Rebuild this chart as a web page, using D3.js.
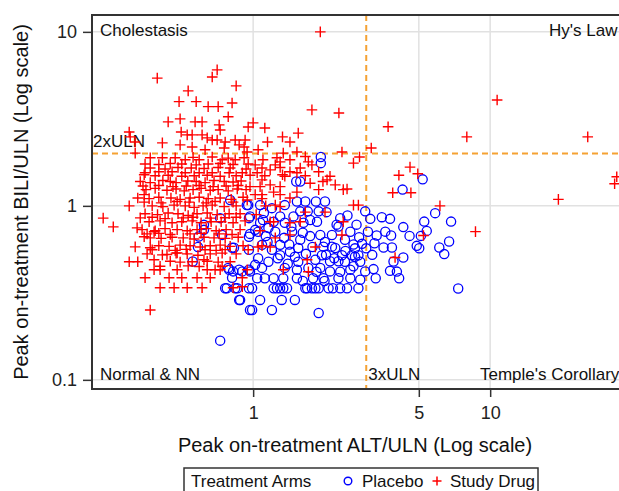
<!DOCTYPE html>
<html>
<head>
<meta charset="utf-8">
<script src="https://cdn.jsdelivr.net/npm/d3@7"></script>
<style>
  html, body { margin: 0; padding: 0; background: #fff; overflow: hidden; }
  svg { display: block; font-family: Arial, 'Liberation Sans', sans-serif; }
</style>
</head>
<body>
<svg id="chart" width="619" height="491"></svg>
<script>
// Peak ALT/ULN vs peak BILI/ULN per subject
const placebo = [
  [1.93, 1.91], [1.93, 1.76], [5.19, 1.42], [4.27, 1.24], [5.86, 0.908], [5.27, 0.812], [6.84, 0.812],
  [5.40, 0.718], [5.10, 0.672], [4.57, 0.672], [4.30, 0.755], [3.49, 0.861], [3.78, 0.842], [3.12, 0.842],
  [3.32, 0.675], [3.61, 0.711], [3.82, 0.675], [3.25, 0.61], [3.55, 0.576], [3.85, 0.576], [3.18, 0.523],
  [4.30, 0.505], [3.91, 0.479], [3.22, 0.433], [3.78, 0.423], [4.04, 0.419], [3.29, 0.384], [4.13, 0.384],
  [4.90, 0.589], [5.02, 0.571], [6.10, 0.576], [6.40, 0.528], [6.71, 0.624], [7.33, 0.335], [1.58, 1.38],
  [1.52, 1.38], [1.53, 1.06], [1.66, 1.06], [1.84, 1.06], [2.01, 1.06], [1.36, 1.01], [1.07, 1.01],
  [0.94, 1.01], [1.20, 0.97], [2.97, 0.93], [2.33, 0.85], [2.73, 0.78], [2.25, 0.78], [2.04, 0.92],
  [1.89, 0.93], [1.58, 0.93], [1.48, 0.87], [1.74, 0.83], [1.30, 0.87], [1.11, 0.91], [0.97, 0.87],
  [1.07, 0.80], [1.22, 0.81], [1.36, 0.80], [1.63, 0.80], [1.86, 0.81], [2.29, 0.76], [1.92, 0.68],
  [2.15, 0.68], [1.98, 0.583], [2.15, 0.583], [2.69, 0.57], [2.61, 0.52], [2.69, 0.51], [2.78, 0.52],
  [2.97, 0.42], [2.83, 0.376], [2.57, 0.43], [2.29, 0.48], [2.11, 0.48], [2.11, 0.42], [2.29, 0.384],
  [2.49, 0.336], [2.33, 0.336], [2.17, 0.336], [2.08, 0.336], [2.78, 0.336], [1.89, 0.336], [1.83, 0.336],
  [1.66, 0.336], [1.98, 0.384], [1.79, 0.384], [1.53, 0.384], [1.34, 0.336], [1.30, 0.336], [1.26, 0.336],
  [1.22, 0.336], [1.32, 0.288], [1.50, 0.288], [1.07, 0.288], [0.881, 0.288], [1.20, 0.252], [0.99, 0.252],
  [1.89, 0.242], [0.99, 0.336], [1.04, 0.384], [1.12, 0.384], [1.22, 0.384], [1.34, 0.384], [0.726, 0.168],
  [0.556, 0.479], [0.585, 0.58], [0.785, 0.44], [0.823, 0.42], [0.90, 0.42], [0.97, 0.42], [0.774, 0.336],
  [0.857, 0.336], [1.39, 0.336], [1.69, 0.336], [1.77, 0.336], [0.62, 0.728], [0.62, 0.778], [0.59, 0.666],
  [0.74, 0.681], [0.815, 0.574], [0.83, 0.574], [0.726, 0.85], [0.80, 1.08], [0.953, 1.01], [0.96, 0.85],
  [0.96, 0.664], [0.96, 0.559], [0.792, 0.429], [0.873, 0.429], [0.96, 0.429], [0.815, 0.386], [0.762, 0.336],
  [0.84, 0.336], [0.96, 0.336], [0.873, 0.288], [0.97, 0.252], [1.05, 0.71], [1.13, 0.67], [1.24, 0.71],
  [1.35, 0.655], [1.46, 0.71], [1.58, 0.638], [1.74, 0.67], [1.09, 0.597], [1.20, 0.559], [1.30, 0.597],
  [1.43, 0.545], [1.55, 0.573], [1.67, 0.53], [1.83, 0.49], [1.05, 0.50], [1.16, 0.477], [1.27, 0.50],
  [1.40, 0.465], [1.55, 0.477], [1.71, 0.44], [1.92, 0.44], [2.44, 0.638], [2.57, 0.71], [2.03, 0.523],
  [2.37, 0.52], [2.83, 0.477], [2.88, 0.605], [3.05, 0.71], [1.02, 0.458], [1.09, 0.44], [1.36, 0.44],
  [1.53, 0.429], [1.85, 0.418], [2.33, 0.418], [1.02, 0.728], [1.16, 0.747], [2.01, 0.62], [2.22, 0.573],
  [2.44, 0.477], [2.57, 0.384],
  [0.97, 0.69], [1.15, 0.62], [1.42, 0.6], [1.62, 0.7], [1.78, 0.58], [1.95, 0.52], [2.2, 0.5],
  [2.45, 0.55], [2.65, 0.6], [2.8, 0.66], [1.3, 0.52], [1.5, 0.51], [1.1, 0.83], [1.45, 0.76],
  [1.7, 0.93], [2.5, 0.88], [2.65, 0.45], [3.0, 0.57], [2.0, 0.37], [1.62, 0.37]
]

const studyDrug = [
  [1.92, 10], [0.394, 5.42], [0.705, 6.05], [0.672, 5.5], [0.848, 4.89], [0.532, 4.58], [0.487, 3.97],
  [0.575, 3.97], [0.646, 3.72], [0.712, 3.72], [0.815, 3.9], [1.77, 3.56], [2.3, 3.42], [3.71, 2.85],
  [10.7, 4.06], [7.97, 2.49], [25.8, 2.49], [3.15, 2.15], [0.438, 3.04], [0.492, 3.16], [0.609, 3.04],
  [0.569, 3.04], [0.785, 3.25], [0.719, 2.92], [0.726, 2.73], [0.953, 2.84], [1.0, 3.0], [0.3, 2.66],
  [0.303, 2.49], [0.414, 2.3], [0.318, 2.33], [0.497, 2.66], [0.527, 2.56], [0.553, 2.56], [0.609, 2.56],
  [0.64, 2.46], [0.672, 2.39], [0.705, 2.39], [0.762, 2.33], [0.84, 2.39], [0.925, 2.39], [0.492, 2.24],
  [0.553, 2.18], [0.627, 2.1], [0.755, 2.15], [0.873, 2.24], [0.916, 2.18], [0.943, 2.04], [0.318, 2.01],
  [0.414, 1.89], [0.469, 1.89], [0.517, 1.84], [0.592, 1.84], [0.672, 1.91], [0.74, 1.84], [0.84, 1.84],
  [0.35, 1.55], [0.4, 1.57], [0.455, 1.57], [0.517, 1.55], [0.592, 1.55], [0.672, 1.55], [0.792, 1.55],
  [0.9, 1.55], [1.15, 2.33], [1.33, 2.49], [1.43, 2.33], [1.55, 2.62], [1.53, 2.04], [2.37, 2.04],
  [1.34, 2.01], [1.26, 1.89], [1.3, 1.79], [1.71, 1.79], [1.77, 1.72], [1.89, 1.57], [1.43, 1.57],
  [1.53, 1.55], [1.04, 1.55], [1.18, 1.61], [1.74, 1.35], [2.05, 1.41], [2.22, 1.32], [1.89, 1.24],
  [2.4, 1.24], [1.3, 1.29], [1.22, 1.2], [1.53, 1.2], [1.07, 1.29], [0.97, 1.29], [1.43, 1.11],
  [2.65, 1.01], [2.78, 1.01], [2.65, 1.76], [2.81, 1.91], [0.944, 1.08], [1.97, 1.38], [2.49, 1.25],
  [4.12, 1.5], [4.59, 1.67], [4.95, 1.53], [3.88, 1.19], [4.63, 1.19], [19.4, 1.09], [34.2, 1.47],
  [33.5, 1.34], [6.14, 1.0], [8.67, 0.711], [3.97, 0.505], [5.23, 0.675], [1.66, 1.92],
  [0.233, 0.85], [0.257, 0.757], [0.3, 1.0], [0.324, 0.747], [0.347, 0.665], [0.318, 0.581], [0.368, 0.574],
  [0.3, 0.477], [0.35, 0.386], [0.405, 0.338], [0.464, 0.338], [0.527, 0.338], [0.609, 0.338], [0.368, 0.252],
  [0.347, 1.16], [0.347, 1.51], [0.382, 0.71], [0.382, 0.429], [0.442, 0.386], [0.5, 0.386], [0.58, 0.386],
  [0.659, 0.386], [0.691, 0.429], [0.62, 0.49], [0.382, 0.49], [0.414, 0.523], [0.478, 0.537], [0.823, 0.338],
  [0.405, 0.429], [0.478, 0.429], [0.64, 0.429], [0.726, 0.429],
  [1.05, 2.1], [1.1, 1.84], [1.02, 1.72], [1.09, 1.41], [1.18, 1.32], [1.33, 1.51], [1.02, 1.16],
  [1.24, 1.72], [1.43, 1.84], [1.12, 2.8], [1.3, 1.16],
  [0.35, 1.74], [0.4, 1.73], [0.447, 1.75], [0.5, 1.74], [0.575, 1.72], [0.646, 1.74], [0.726, 1.75],
  [0.823, 1.73], [0.953, 1.74],
  [0.368, 1.65], [0.425, 1.63], [0.482, 1.66], [0.548, 1.65], [0.621, 1.64], [0.712, 1.66], [0.8, 1.65],
  [0.934, 1.63], [1.09, 1.65], [1.3, 1.66], [1.58, 1.65],
  [0.386, 1.49], [0.438, 1.5], [0.5, 1.48], [0.564, 1.49], [0.64, 1.5], [0.726, 1.48], [0.848, 1.49],
  [0.971, 1.5], [1.12, 1.49], [1.36, 1.48], [1.66, 1.49], [2.11, 1.48],
  [0.334, 1.38], [0.368, 1.36], [0.416, 1.4], [0.447, 1.38], [0.473, 1.36], [0.53, 1.39], [0.575, 1.38],
  [0.627, 1.36], [0.684, 1.4], [0.755, 1.38], [0.823, 1.37], [0.89, 1.39],
  [0.353, 1.24], [0.386, 1.26], [0.433, 1.23], [0.473, 1.25], [0.512, 1.22], [0.558, 1.24], [0.603, 1.26],
  [0.659, 1.23], [0.712, 1.24], [0.785, 1.22], [0.857, 1.25], [0.934, 1.24],
  [0.326, 1.11], [0.364, 1.1], [0.4, 1.12], [0.45, 1.11], [0.492, 1.09], [0.542, 1.11], [0.592, 1.12],
  [0.646, 1.1], [0.726, 1.11], [0.808, 1.09], [0.907, 1.12], [1.09, 1.1],
  [0.375, 1.0], [0.416, 0.99], [0.464, 1.01], [0.517, 1.0], [0.564, 0.98], [0.615, 1.0], [0.672, 1.01],
  [0.755, 0.99], [0.848, 1.0], [1.13, 1.0], [1.3, 0.99],
  [0.35, 0.9], [0.395, 0.89], [0.438, 0.91], [0.482, 0.9], [0.532, 0.88], [0.58, 0.9], [0.64, 0.91],
  [0.705, 0.89], [0.792, 0.9], [0.881, 0.9], [1.03, 0.89],
  [0.364, 0.81], [0.405, 0.82], [0.455, 0.8], [0.5, 0.81], [0.553, 0.82], [0.603, 0.8], [0.665, 0.81],
  [0.733, 0.81], [0.823, 0.8], [0.925, 0.82], [1.18, 0.81], [1.43, 0.8],
  [0.34, 0.73], [0.386, 0.72], [0.425, 0.74], [0.478, 0.73], [0.527, 0.72], [0.58, 0.73], [0.634, 0.74],
  [0.698, 0.72], [0.769, 0.73], [0.881, 0.73], [1.07, 0.72],
  [0.368, 0.655], [0.409, 0.65], [0.455, 0.66], [0.507, 0.655], [0.564, 0.645], [0.621, 0.66], [0.684, 0.655],
  [0.762, 0.65], [0.865, 0.66], [1.24, 0.655],
  [0.4, 0.59], [0.442, 0.585], [0.492, 0.595], [0.542, 0.59], [0.598, 0.58], [0.659, 0.59], [0.726, 0.595],
  [0.8, 0.585], [0.907, 0.59], [1.09, 0.59],
  [0.357, 0.53], [0.433, 0.525], [0.473, 0.535], [0.527, 0.53], [0.585, 0.52], [0.659, 0.53], [0.74, 0.535],
  [0.848, 0.53],
  [0.326, 0.477], [0.447, 0.48], [0.492, 0.475], [0.553, 0.477], [0.64, 0.48], [0.712, 0.475], [0.8, 0.477],
  [1.09, 1.16], [1.24, 1.01], [1.58, 0.81], [1.22, 0.81], [1.83, 0.58], [1.18, 0.58], [1.05, 0.58],
  [1.69, 0.49], [1.34, 0.429], [1.71, 0.418], [2.37, 0.68], [2.4, 0.81], [0.944, 0.429], [0.9, 0.343],
  [0.9, 0.386], [1.43, 0.681], [1.66, 0.92], [2.01, 0.92],
  [0.343, 1.3], [0.4, 1.31], [0.459, 1.29], [0.522, 1.3], [0.592, 1.31], [0.678, 1.29], [0.769, 1.3], [0.865, 1.31],
  [0.347, 1.05], [0.409, 1.04], [0.478, 1.06], [0.537, 1.05], [0.634, 1.04], [0.691, 1.06], [0.823, 1.05],
  [0.334, 0.853], [0.375, 0.86], [0.425, 0.845], [0.507, 0.853], [0.558, 0.86], [0.659, 0.85], [0.762, 0.855], [0.848, 0.86],
  [0.357, 0.69], [0.4, 0.695], [0.447, 0.685], [0.542, 0.69], [0.603, 0.695], [0.719, 0.69], [0.815, 0.685],
  [0.375, 0.559], [0.469, 0.555], [0.522, 0.562], [0.627, 0.559], [0.698, 0.555], [0.762, 0.56], [0.953, 0.559],
  [0.368, 1.89], [0.558, 1.9], [0.785, 1.88], [0.916, 1.89],
  [0.405, 0.45], [0.532, 0.452], [0.592, 0.448], [0.74, 0.45]
]

const xTicks = [1, 5, 10]
const yTicks = [0.1, 1, 10]
const refLines = { alt: 3, bili: 2 }
const refLabels = ['3xULN', '2xULN']
const quadrantLabels = ['Cholestasis', "Hy's Law", 'Normal & NN', "Temple's Corollary"]
const seriesNames = ['Placebo', 'Study Drug']
const legendTitle = 'Treatment Arms'
const axisTitles = ['Peak on-treatment ALT/ULN (Log scale)', 'Peak on-treatment BILI/ULN (Log scale)']

// plot frame; the right edge runs past the window like in the original
const plotLeft = 92, plotTop = 15, plotBottom = 389, plotRight = 645
const red = '#ff0000', blue = '#0000ff', orange = '#f5a233', grid = '#e1e1e1', frame = '#333'

const x = d3.scaleLog().domain([0.209, 45]).range([plotLeft, plotRight])
const y = d3.scaleLog().domain([0.0886, 12.5]).range([plotBottom, plotTop])

const svg = d3.select('#chart')

svg.append('defs').append('clipPath').attr('id', 'plot-clip')
  .append('rect').attr('x', plotLeft).attr('y', plotTop)
  .attr('width', plotRight - plotLeft).attr('height', plotBottom - plotTop)

// gridlines
svg.append('g').selectAll('line').data(xTicks).enter().append('line')
  .attr('x1', d => x(d)).attr('x2', d => x(d)).attr('y1', plotTop).attr('y2', plotBottom)
  .attr('stroke', grid).attr('stroke-width', 1.5)
svg.append('g').selectAll('line').data(yTicks).enter().append('line')
  .attr('x1', plotLeft).attr('x2', plotRight).attr('y1', d => y(d)).attr('y2', d => y(d))
  .attr('stroke', grid).attr('stroke-width', 1.5)

// reference lines at 3xULN (ALT) and 2xULN (BILI)
const refs = svg.append('g').attr('stroke', orange).attr('stroke-width', 2).attr('stroke-dasharray', '6,4')
refs.append('line').attr('x1', x(refLines.alt)).attr('x2', x(refLines.alt)).attr('y1', plotTop).attr('y2', plotBottom)
refs.append('line').attr('x1', plotLeft).attr('x2', plotRight).attr('y1', y(refLines.bili)).attr('y2', y(refLines.bili))

// quadrant and reference labels
const labels = svg.append('g').attr('font-size', 17).attr('fill', '#111')
labels.append('text').attr('x', plotLeft + 8).attr('y', plotTop + 21).text(quadrantLabels[0])
labels.append('text').attr('x', 549).attr('y', plotTop + 21).text(quadrantLabels[1])
labels.append('text').attr('x', plotLeft + 8).attr('y', plotBottom - 9).text(quadrantLabels[2])
labels.append('text').attr('x', 480).attr('y', plotBottom - 9).text(quadrantLabels[3])
labels.append('text').attr('x', x(refLines.alt) + 2).attr('y', plotBottom - 9).text(refLabels[0])
labels.append('text').attr('x', plotLeft + 1).attr('y', y(refLines.bili) - 6).text(refLabels[1])

// points: placebo circles first, study drug crosses on top
const plus = s => `M${-s},0H${s}M0,${-s}V${s}`
const marks = svg.append('g').attr('clip-path', 'url(#plot-clip)')
marks.append('g').selectAll('circle').data(placebo).enter().append('circle')
  .attr('cx', d => x(d[0])).attr('cy', d => y(d[1])).attr('r', 4.6)
  .attr('fill', 'none').attr('stroke', blue).attr('stroke-width', 1.3)
marks.append('g').selectAll('path').data(studyDrug).enter().append('path')
  .attr('transform', d => `translate(${x(d[0])},${y(d[1])})`)
  .attr('d', plus(5.3)).attr('fill', 'none').attr('stroke', red).attr('stroke-width', 1.4)

// frame (left, top, bottom)
svg.append('path')
  .attr('d', `M${plotRight},${plotTop}H${plotLeft}V${plotBottom}H${plotRight}`)
  .attr('fill', 'none').attr('stroke', frame).attr('stroke-width', 2)

// axes
const yAxis = svg.append('g').attr('transform', `translate(${plotLeft},0)`)
  .call(d3.axisLeft(y).tickValues(yTicks).tickFormat(d3.format('~g')).tickSize(9).tickSizeOuter(0).tickPadding(6))
const xAxis = svg.append('g').attr('transform', `translate(0,${plotBottom})`)
  .call(d3.axisBottom(x).tickValues(xTicks).tickFormat(d3.format('~g')).tickSize(8).tickSizeOuter(0).tickPadding(9))
for (const ax of [xAxis, yAxis]) {
  ax.select('.domain').remove()
  ax.selectAll('line').attr('stroke', frame).attr('stroke-width', 1.5)
  ax.selectAll('text').attr('font-size', 18).attr('fill', '#222')
  ax.attr('font-family', null)
}

svg.append('text').attr('x', 355).attr('y', 452).attr('text-anchor', 'middle')
  .attr('font-size', 20).attr('fill', '#111').text(axisTitles[0])
svg.append('text').attr('transform', 'translate(28,202) rotate(-90)').attr('text-anchor', 'middle')
  .attr('font-size', 20).attr('fill', '#111').text(axisTitles[1])

// legend
const legend = svg.append('g').attr('font-size', 17).attr('fill', '#111')
legend.append('rect').attr('x', 184).attr('y', 468).attr('width', 354).attr('height', 40)
  .attr('fill', 'none').attr('stroke', frame).attr('stroke-width', 1.5)
legend.append('text').attr('x', 191).attr('y', 487).text(legendTitle)
legend.append('circle').attr('cx', 348).attr('cy', 481).attr('r', 3.8)
  .attr('fill', 'none').attr('stroke', blue).attr('stroke-width', 1.4)
legend.append('text').attr('x', 362).attr('y', 487).text(seriesNames[0])
legend.append('path').attr('transform', 'translate(437,481)').attr('d', plus(4.5))
  .attr('stroke', red).attr('stroke-width', 1.5)
legend.append('text').attr('x', 450).attr('y', 487).text(seriesNames[1])
</script>
</body>
</html>
